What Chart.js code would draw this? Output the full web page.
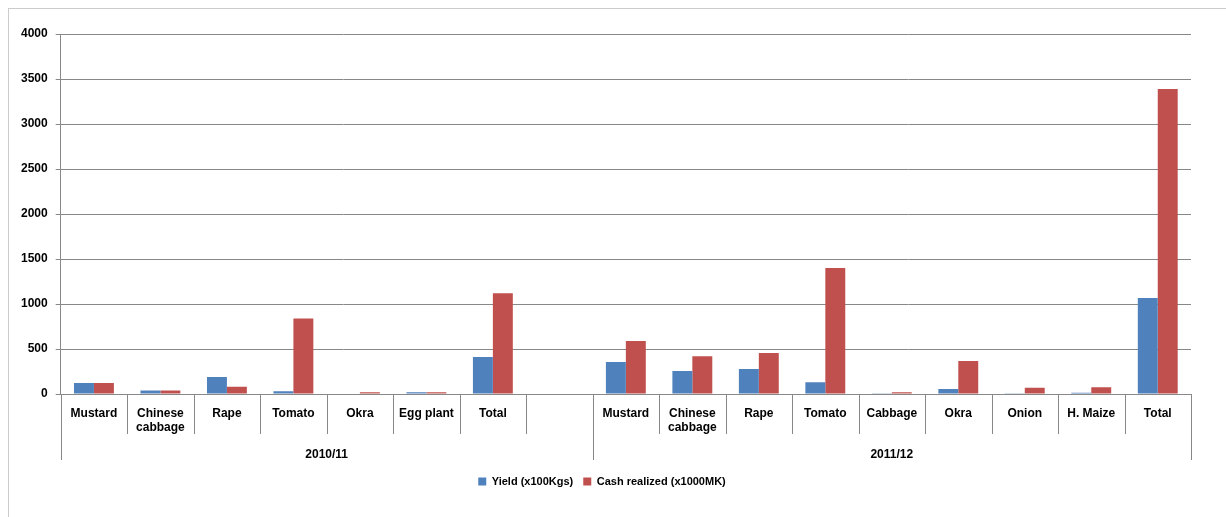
<!DOCTYPE html>
<html>
<head>
<meta charset="utf-8">
<script src="https://cdn.jsdelivr.net/npm/chart.js@4/dist/chart.umd.min.js"></script>
<style>
  body { margin: 0; background: #fff; }
  #wrap { position: absolute; left: 8px; top: 8px; width: 1218px; height: 509px; border-left: 1px solid #ccc; border-top: 1px solid #ccc; box-sizing: border-box; }
</style>
</head>
<body>
<div id="wrap"><canvas id="c"></canvas></div>
<script>
const categories = ['Mustard', ['Chinese', 'cabbage'], 'Rape', 'Tomato', 'Okra', 'Egg plant', 'Total', '',
  'Mustard', ['Chinese', 'cabbage'], 'Rape', 'Tomato', 'Cabbage', 'Okra', 'Onion', 'H. Maize', 'Total'];
const yieldValues = [122, 40, 190, 30, 5, 20, 410, null, 355, 255, 278, 130, 3, 55, 3, 15, 1067];
const cashValues = [122, 40, 80, 840, 20, 20, 1120, null, 590, 420, 455, 1400, 20, 367, 70, 75, 3390];
const groups = [{ label: '2010/11', from: 0, to: 7 }, { label: '2011/12', from: 8, to: 16 }];

const groupPlugin = {
  id: 'groups',
  afterDraw(chart) {
    const ctx = chart.ctx, x = chart.scales.x, top = chart.chartArea.bottom;
    const step = x.getPixelForValue(1) - x.getPixelForValue(0);
    const line = (px, len) => {
      ctx.beginPath(); ctx.moveTo(Math.round(px) + 0.5, top); ctx.lineTo(Math.round(px) + 0.5, top + len); ctx.stroke();
    };
    ctx.save();
    ctx.strokeStyle = '#888';
    ctx.lineWidth = 1;
    for (let i = 0; i <= categories.length; i++) line(x.getPixelForValue(0) + (i - 0.5) * step, 40);
    ctx.fillStyle = '#000';
    ctx.font = 'bold 12px "Liberation Sans", Arial';
    ctx.textAlign = 'center';
    groups.forEach(g => {
      const l = x.getPixelForValue(g.from) - step / 2;
      const r = x.getPixelForValue(g.to) + step / 2;
      line(l, 66); line(r, 66);
      ctx.fillText(g.label, (l + r) / 2, top + 61);
    });
    ctx.restore();
  }
};

new Chart(document.getElementById('c'), {
  type: 'bar',
  data: {
    labels: categories,
    datasets: [
      { label: 'Yield (x100Kgs)', data: yieldValues, backgroundColor: '#4F81BD' },
      { label: 'Cash realized (x1000MK)', data: cashValues, backgroundColor: '#C0504D' }
    ]
  },
  options: {
    responsive: true,
    maintainAspectRatio: false,
    animation: false,
    categoryPercentage: 0.6,
    barPercentage: 1,
    layout: { padding: { left: 4, right: 35, top: 25, bottom: 20 } },
    plugins: {
      tooltip: { enabled: false },
      legend: {
        position: 'bottom',
        labels: { boxWidth: 8, boxHeight: 8, color: '#000', font: { size: 11, weight: 'bold', family: '"Liberation Sans", Arial' }, padding: 10 }
      }
    },
    scales: {
      x: {
        grid: { display: false },
        border: { color: '#888' },
        ticks: { color: '#000', maxRotation: 0, autoSkip: false, padding: 4, font: { size: 12, weight: 'bold', family: '"Liberation Sans", Arial' } },
        afterFit(s) { s.height = 72; }
      },
      y: {
        min: 0, max: 4000,
        ticks: { stepSize: 500, color: '#000', padding: 8, callback: v => String(v), font: { size: 12, weight: 'bold', family: '"Liberation Sans", Arial' } },
        grid: { color: '#888', tickLength: 5 },
        border: { color: '#888' }
      }
    }
  },
  plugins: [groupPlugin]
});
</script>
</body>
</html>
